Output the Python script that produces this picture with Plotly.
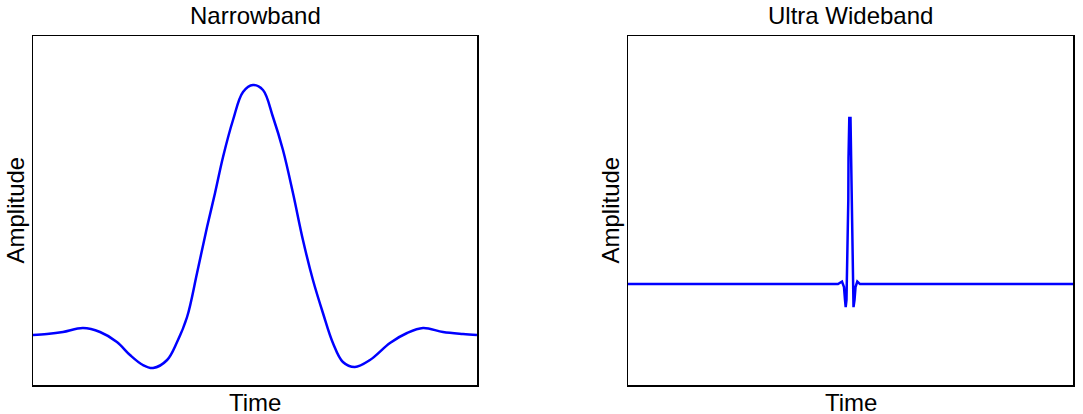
import plotly.graph_objects as go

# ---------------- data ----------------
nb_time = [-1.0, -0.937, -0.865, -0.775, -0.698, -0.622, -0.563, -0.505, -0.459,
           -0.396, -0.351, -0.306, -0.261, -0.216, -0.180, -0.144, -0.099, -0.054,
           -0.009, 0.036, 0.081, 0.126, 0.171, 0.216, 0.261, 0.306, 0.351, 0.396,
           0.450, 0.518, 0.608, 0.685, 0.757, 0.847, 0.937, 1.0]
nb_amp = [0.0, 0.004, 0.012, 0.028, 0.012, -0.028, -0.080, -0.120, -0.132,
          -0.100, -0.028, 0.072, 0.248, 0.432, 0.568, 0.712, 0.860, 0.972,
          1.0, 0.980, 0.872, 0.740, 0.568, 0.380, 0.220, 0.088, -0.032, -0.108,
          -0.128, -0.100, -0.032, 0.008, 0.028, 0.012, 0.004, 0.0]

uwb_time = [-1.0, -0.0562, -0.0382, -0.0292, -0.0247, -0.0216, -0.0180, -0.0144,
            -0.0126, -0.0099, -0.0090, -0.0054, 0.0, 0.0022, 0.0054, 0.0063,
            0.0081, 0.0112, 0.0135, 0.0180, 0.0225, 0.0306, 0.0427, 1.0]
uwb_amp = [0.0, 0.0, 0.015, -0.018, -0.096, -0.139, -0.096, 0.145,
           0.343, 0.506, 0.759, 1.0, 1.0, 0.789, 0.687, 0.373,
           0.145, -0.096, -0.139, -0.096, -0.018, 0.015, 0.0, 0.0]

titles = ["Narrowband", "Ultra Wideband"]
x_label = "Time"
y_label = "Amplitude"

# ---------------- figure ----------------
W, H = 1083, 414
FONT = "Liberation Sans, Arial, sans-serif"
BLUE = "rgb(0,0,255)"


def fx(px):
    return px / W


def fy(py):
    return 1 - py / H


x1_dom = [fx(33), fx(477)]
x2_dom = [fx(628), fx(1073)]
y_dom = [fy(385), fy(36)]

fig = go.Figure()
fig.add_trace(go.Scatter(x=nb_time, y=nb_amp, mode="lines",
                         line=dict(color=BLUE, width=2.5, shape="spline", smoothing=1.0),
                         xaxis="x", yaxis="y", showlegend=False, hoverinfo="skip"))
fig.add_trace(go.Scatter(x=uwb_time, y=uwb_amp, mode="lines",
                         line=dict(color=BLUE, width=2.5),
                         xaxis="x2", yaxis="y2", showlegend=False, hoverinfo="skip"))

ax_common = dict(showline=True, linecolor="black", linewidth=1.5, mirror=True,
                 showgrid=False, zeroline=False, showticklabels=False, ticks="")

fig.update_layout(
    width=W, height=H,
    margin=dict(l=0, r=0, t=0, b=0),
    paper_bgcolor="white", plot_bgcolor="white",
    font=dict(family=FONT, size=24, color="black"),
    xaxis=dict(domain=x1_dom, range=[-1, 1], anchor="y", **ax_common),
    yaxis=dict(domain=y_dom, range=[-0.2, 1.196], anchor="x", **ax_common),
    xaxis2=dict(domain=x2_dom, range=[-1, 1], anchor="y2", **ax_common),
    yaxis2=dict(domain=y_dom, range=[-0.608, 1.494], anchor="x2", **ax_common),
)

ann = []
for (a, b), title in zip([(33, 477), (628, 1073)], titles):
    cx = fx((a + b) / 2)
    ann.append(dict(text=title, x=cx, y=fy(15), xref="paper", yref="paper",
                    xanchor="center", yanchor="middle", showarrow=False,
                    font=dict(family=FONT, size=24, color="black")))
    ann.append(dict(text=x_label, x=cx, y=fy(402), xref="paper", yref="paper",
                    xanchor="center", yanchor="middle", showarrow=False,
                    font=dict(family=FONT, size=24, color="black")))
for px in [15, 610]:
    ann.append(dict(text=y_label, x=fx(px), y=fy(210.5), xref="paper", yref="paper",
                    xanchor="center", yanchor="middle", textangle=-90, showarrow=False,
                    font=dict(family=FONT, size=24, color="black")))
fig.update_layout(annotations=ann)

fig.write_html("out.html",
               config={"displayModeBar": False, "staticPlot": True},
               post_script="document.body.style.margin='0';document.body.style.overflow='hidden';")
